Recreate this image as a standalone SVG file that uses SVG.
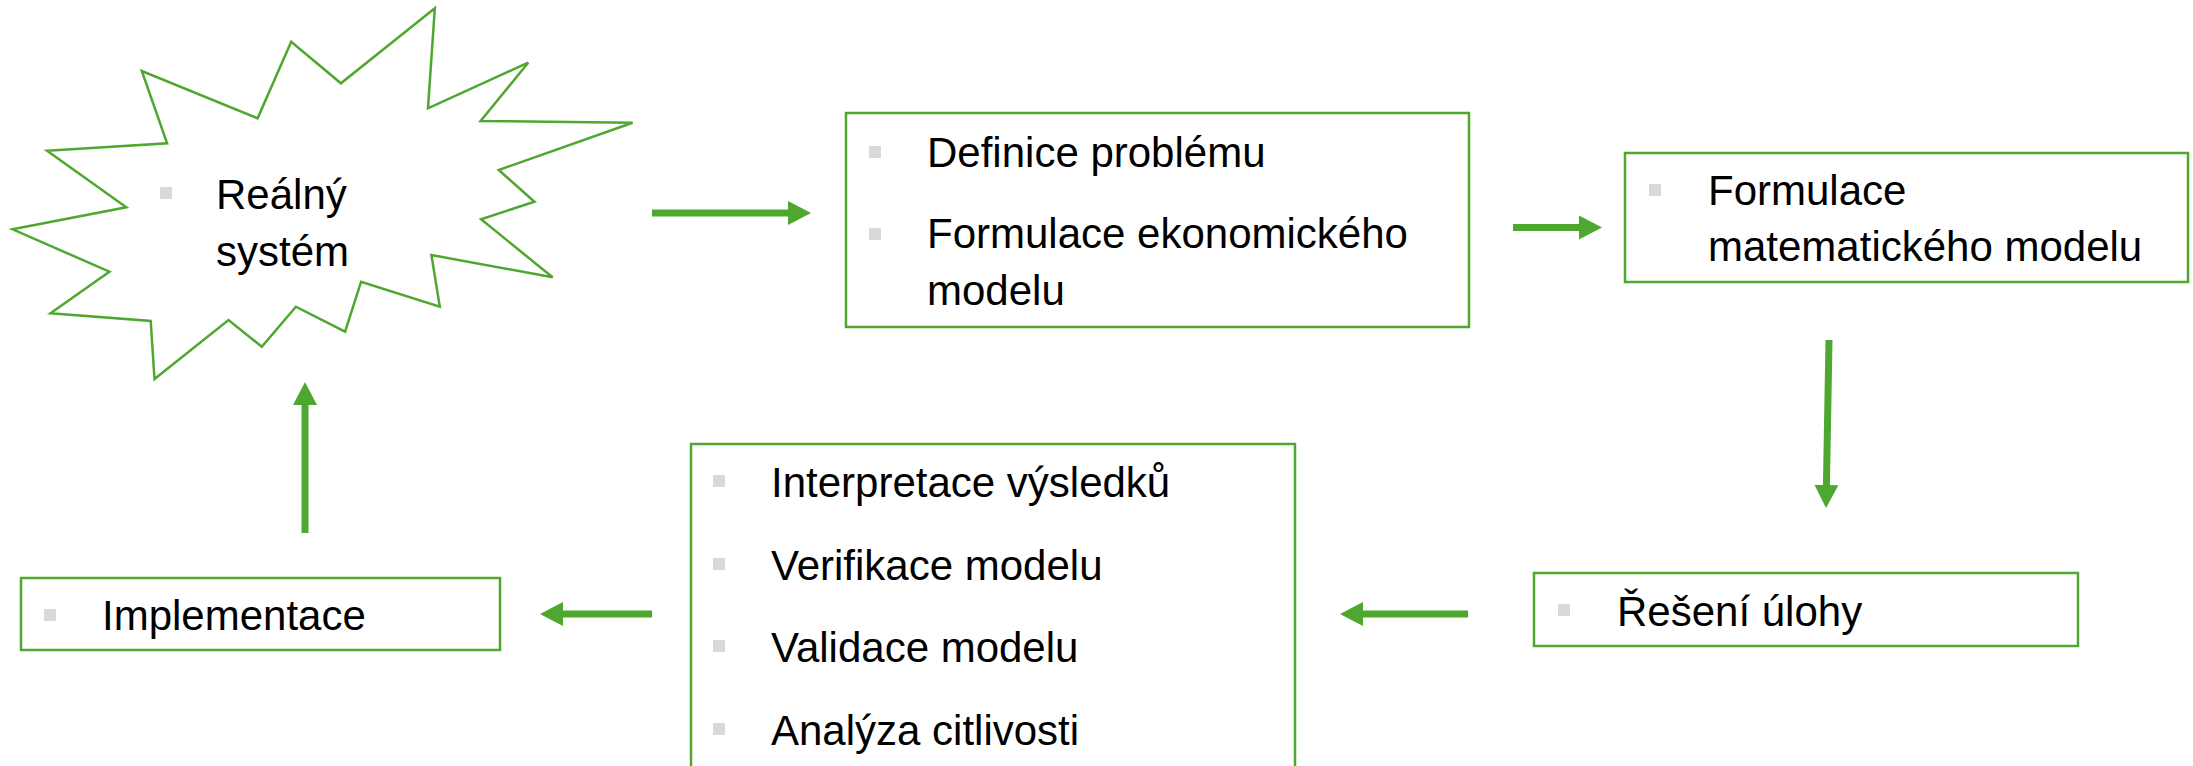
<svg xmlns="http://www.w3.org/2000/svg" width="2193" height="766" viewBox="0 0 2193 766">
  <style>
    .box { fill: #ffffff; stroke: #4ea72e; stroke-width: 2.5; }
    .txt { font-family: "Liberation Sans", Arial, sans-serif; font-size: 42px; fill: #000000; }
    .bul { fill: #d9d9d9; }
    .conn { stroke: #4ea72e; stroke-width: 7; fill: none; marker-end: url(#ah); }
  </style>
  <defs>
    <marker id="ah" markerUnits="userSpaceOnUse" markerWidth="24" markerHeight="24" refX="2" refY="12" orient="auto">
      <path d="M0,0 L23,12 L0,24 Z" fill="#4ea72e"/>
    </marker>
  </defs>

  <rect width="2193" height="766" fill="#ffffff"/>

  <!-- Real system: explosion shape -->
  <g id="node-realny-system">
    <polygon class="box" points="434.8,8.3 428,108.3 528.2,62.7 480.6,121 632.6,122.7 498.7,170 534.5,201.7 481.1,219.3 552.6,277.3 431.4,255 439.8,306.7 361.1,281.7 345.1,331.7 295.9,306.7 261.8,346.7 228.5,320 154.5,379 150.7,321 50.5,313.3 109.4,271.7 12.6,229.3 126.3,207.3 47.1,150.7 167.1,143.3 141.8,71 257.6,118.3 291.2,41.7 340.9,83.3"/>
    <rect class="bul" x="160" y="187" width="12" height="12"/>
    <text class="txt" x="216" y="209">Reálný</text>
    <text class="txt" x="216" y="266">systém</text>
  </g>

  <!-- Problem definition and economic model -->
  <g id="node-definice">
    <rect class="box" x="846" y="113" width="623" height="214"/>
    <rect class="bul" x="869" y="146" width="12" height="12"/>
    <text class="txt" x="927" y="166.5">Definice problému</text>
    <rect class="bul" x="869" y="228" width="12" height="12"/>
    <text class="txt" x="927" y="248">Formulace ekonomického</text>
    <text class="txt" x="927" y="305">modelu</text>
  </g>

  <!-- Mathematical model -->
  <g id="node-matematicky-model">
    <rect class="box" x="1625" y="153" width="563" height="129"/>
    <rect class="bul" x="1649" y="184" width="12" height="12"/>
    <text class="txt" x="1708" y="205">Formulace</text>
    <text class="txt" x="1708" y="261">matematického modelu</text>
  </g>

  <!-- Solving the task -->
  <g id="node-reseni">
    <rect class="box" x="1534" y="573" width="544" height="73"/>
    <rect class="bul" x="1558" y="604" width="12" height="12"/>
    <text class="txt" x="1617" y="626">Řešení úlohy</text>
  </g>

  <!-- Interpretation, verification, validation, sensitivity -->
  <g id="node-interpretace">
    <rect class="box" x="691" y="444" width="604" height="340"/>
    <rect class="bul" x="713" y="475" width="12" height="12"/>
    <text class="txt" x="771" y="497">Interpretace výsledků</text>
    <rect class="bul" x="713" y="558" width="12" height="12"/>
    <text class="txt" x="771" y="580">Verifikace modelu</text>
    <rect class="bul" x="713" y="640" width="12" height="12"/>
    <text class="txt" x="771" y="662">Validace modelu</text>
    <rect class="bul" x="713" y="723" width="12" height="12"/>
    <text class="txt" x="771" y="745">Analýza citlivosti</text>
  </g>

  <!-- Implementation -->
  <g id="node-implementace">
    <rect class="box" x="21" y="578" width="479" height="72"/>
    <rect class="bul" x="44" y="609" width="12" height="12"/>
    <text class="txt" x="102" y="630">Implementace</text>
  </g>

  <!-- Connectors -->
  <g id="connectors">
    <line class="conn" x1="652" y1="213" x2="790" y2="213"/>
    <line class="conn" x1="1513" y1="227.5" x2="1581" y2="227.5"/>
    <line class="conn" x1="1829" y1="340" x2="1826.4" y2="487"/>
    <line class="conn" x1="1468" y1="614" x2="1361" y2="614"/>
    <line class="conn" x1="652" y1="614" x2="561" y2="614"/>
    <line class="conn" x1="305" y1="533" x2="305" y2="403"/>
  </g>
</svg>
